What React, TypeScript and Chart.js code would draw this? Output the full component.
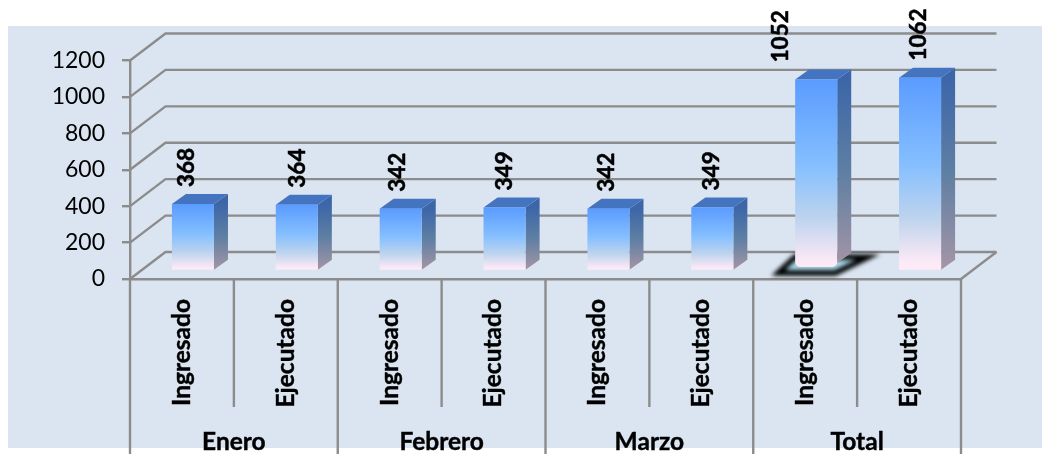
import React, { useEffect, useRef } from "react";
import { Chart, registerables } from "chart.js";

Chart.register(...registerables);

const categories = ["Ingresado", "Ejecutado", "Ingresado", "Ejecutado", "Ingresado", "Ejecutado", "Ingresado", "Ejecutado"];
const groups = ["Enero", "Febrero", "Marzo", "Total"];
const values = [368, 364, 342, 349, 342, 349, 1052, 1062];
const yTicks = [0, 200, 400, 600, 800, 1000, 1200];

// per-label horizontal nudges, as placed in the reference
const labelNudge = [-6, 1, -3, 0, -2, -1, -35, -1];
const SHADOWED_BAR = 6;

const FONT = "Lato, Carlito, sans-serif";
const AXIS = "#8c8c8c";
const WALL = { dx: 35.5, dy: -27 };
const BAR_SHIFT = { dx: 11, dy: -8 };
const BAR_DEPTH = { dx: 14, dy: -10 };

function frontGradient(ctx: CanvasRenderingContext2D, top: number, bottom: number) {
  const g = ctx.createLinearGradient(0, top, 0, bottom);
  g.addColorStop(0, "#5a9bff");
  g.addColorStop(0.45, "#85bfff");
  g.addColorStop(0.72, "#bcd3ee");
  g.addColorStop(0.95, "#fbe9f6");
  g.addColorStop(1, "#fdebf8");
  return g;
}

const chart3d = {
  id: "chart3d",
  beforeDraw(chart: any) {
    const { ctx } = chart;
    ctx.save();
    ctx.fillStyle = "#dbe5f1";
    ctx.fillRect(8, 26, chart.width - 8, 422);
    ctx.restore();
  },
  beforeDatasetsDraw(chart: any) {
    const { ctx, scales, chartArea } = chart;
    const { x, y } = scales;
    ctx.save();
    ctx.strokeStyle = AXIS;
    ctx.lineWidth = 2.4;
    for (const t of yTicks) {
      const py = y.getPixelForValue(t);
      ctx.beginPath();
      ctx.moveTo(chartArea.left, py);
      ctx.lineTo(chartArea.left + WALL.dx, py + WALL.dy);
      ctx.lineTo(chartArea.right + WALL.dx, py + WALL.dy);
      ctx.stroke();
    }
    const zero = y.getPixelForValue(0);
    ctx.beginPath();
    ctx.moveTo(chartArea.right, zero);
    ctx.lineTo(chartArea.right + WALL.dx, zero + WALL.dy);
    ctx.stroke();

    // category separators below the axis
    const step = (chartArea.right - chartArea.left) / categories.length;
    categories.forEach((_, i) => {
      const sx = x.getPixelForValue(i) - step / 2;
      ctx.beginPath();
      ctx.moveTo(sx, zero);
      ctx.lineTo(sx, i % 2 === 0 ? chart.height : 407);
      ctx.stroke();
    });
    ctx.beginPath();
    ctx.moveTo(chartArea.right, zero);
    ctx.lineTo(chartArea.right, chart.height);
    ctx.stroke();

    // group labels
    ctx.fillStyle = "#000";
    ctx.strokeStyle = "#000";
    ctx.lineWidth = 0.4;
    ctx.font = `bold 24.5px ${FONT}`;
    ctx.textAlign = "center";
    ctx.textBaseline = "middle";
    groups.forEach((g, i) => {
      const gx = x.getPixelForValue(i * 2) + step / 2;
      ctx.fillText(g, gx, 442);
      ctx.strokeText(g, gx, 442);
    });

    // the dark shadow under one bar, whose base sits slightly above the floor
    const meta = chart.getDatasetMeta(0);
    const el = meta.data[SHADOWED_BAR];
    const l = el.x + BAR_SHIFT.dx - el.width / 2;
    const r = el.x + BAR_SHIFT.dx + el.width / 2;
    const b = zero + BAR_SHIFT.dy;
    el.base = zero - 4;
    ctx.save();
    ctx.filter = "blur(2px)";
    ctx.strokeStyle = "#000";
    ctx.lineWidth = 5.5;
    ctx.fillStyle = "#a9d8ea";
    ctx.beginPath();
    ctx.moveTo(l - 17, b + 2);
    ctx.lineTo(r - 2, b + 2);
    ctx.lineTo(r + 31, b - 14);
    ctx.lineTo(l, b - 14);
    ctx.closePath();
    ctx.fill();
    ctx.stroke();
    ctx.restore();

    // depth faces and front-face shift
    ctx.translate(BAR_SHIFT.dx, BAR_SHIFT.dy);
    meta.data.forEach((bar: any, i: number) => {
      const left = bar.x - bar.width / 2;
      const right = bar.x + bar.width / 2;
      const rounded = i === SHADOWED_BAR ? 4 : 0;
      const side = ctx.createLinearGradient(0, bar.y, 0, bar.base);
      side.addColorStop(0, "#3c66a8");
      side.addColorStop(0.5, "#5f7fa3");
      side.addColorStop(1, "#a595a5");
      ctx.fillStyle = side;
      ctx.beginPath();
      ctx.moveTo(right, bar.y);
      ctx.lineTo(right + BAR_DEPTH.dx, bar.y + BAR_DEPTH.dy);
      ctx.lineTo(right + BAR_DEPTH.dx, bar.base + BAR_DEPTH.dy - rounded);
      ctx.lineTo(right, bar.base - rounded);
      ctx.closePath();
      ctx.fill();
      ctx.fillStyle = "#4474c0";
      ctx.beginPath();
      ctx.moveTo(left, bar.y);
      ctx.lineTo(left + BAR_DEPTH.dx, bar.y + BAR_DEPTH.dy);
      ctx.lineTo(right + BAR_DEPTH.dx, bar.y + BAR_DEPTH.dy);
      ctx.lineTo(right, bar.y);
      ctx.closePath();
      ctx.fill();
    });
    // left translated while the library draws the bars
  },
  afterDatasetsDraw(chart: any) {
    const { ctx } = chart;
    ctx.restore();
    const meta = chart.getDatasetMeta(0);
    ctx.save();
    ctx.fillStyle = "#000";
    ctx.strokeStyle = "#000";
    ctx.lineWidth = 0.5;
    ctx.font = `bold 22.5px ${FONT}`;
    ctx.textAlign = "left";
    ctx.textBaseline = "middle";
    meta.data.forEach((bar: any, i: number) => {
      ctx.save();
      ctx.translate(bar.x + BAR_SHIFT.dx + labelNudge[i], bar.y + BAR_SHIFT.dy - 17);
      ctx.rotate(-Math.PI / 2);
      ctx.fillText(String(values[i]), 0, 0);
      ctx.strokeText(String(values[i]), 0, 0);
      ctx.restore();
    });
    ctx.restore();
  },
};

export default function App() {
  const ref = useRef<HTMLCanvasElement>(null);
  useEffect(() => {
    const chart = new Chart(ref.current!, {
      type: "bar",
      data: {
        labels: categories,
        datasets: [
          {
            data: values,
            clip: false,
            barPercentage: 0.405,
            categoryPercentage: 1,
            borderWidth: 0,
            borderSkipped: false,
            borderRadius: (c: any) =>
              c.dataIndex === SHADOWED_BAR ? { topLeft: 0, topRight: 0, bottomLeft: 5, bottomRight: 5 } : 0,
            backgroundColor: (c: any) => {
              const y = c.chart.scales.y;
              const top = y ? y.getPixelForValue(c.raw) : NaN;
              const bottom = y ? y.getPixelForValue(0) : NaN;
              if (!Number.isFinite(top) || !Number.isFinite(bottom)) return "#5a9bff";
              return frontGradient(c.chart.ctx, top, bottom);
            },
          } as any,
        ],
      },
      options: {
        responsive: false,
        animation: false,
        layout: { padding: { left: 0, right: 81, top: 60.5, bottom: 0 } },
        plugins: { legend: { display: false }, tooltip: { enabled: false } },
        scales: {
          x: {
            grid: { display: false },
            border: { display: true, color: AXIS, width: 2.4 },
            afterFit: (s: any) => {
              s.height = 175;
            },
            ticks: {
              autoSkip: false,
              minRotation: 90,
              maxRotation: 90,
              padding: 12,
              color: "#000",
              textStrokeColor: "#000",
              textStrokeWidth: 0.4,
              font: { family: FONT, size: 24.5, weight: "bold" },
            },
          },
          y: {
            min: 0,
            max: 1200,
            afterBuildTicks: (s: any) => {
              s.ticks = yTicks.map((value) => ({ value }));
            },
            afterFit: (s: any) => {
              s.width = 130;
            },
            grid: { drawOnChartArea: false, color: AXIS, lineWidth: 2.4, tickLength: 8 },
            border: { display: true, color: AXIS, width: 2.4 },
            ticks: {
              padding: 17,
              color: "#000",
              font: { family: FONT, size: 23 },
              callback: (v: any) => String(v),
            },
          },
        },
      },
      plugins: [chart3d],
    } as any);
    return () => chart.destroy();
  }, []);
  return <canvas ref={ref} width={1042} height={454} style={{ position: "fixed", left: 0, top: 0, display: "block" }} />;
}
